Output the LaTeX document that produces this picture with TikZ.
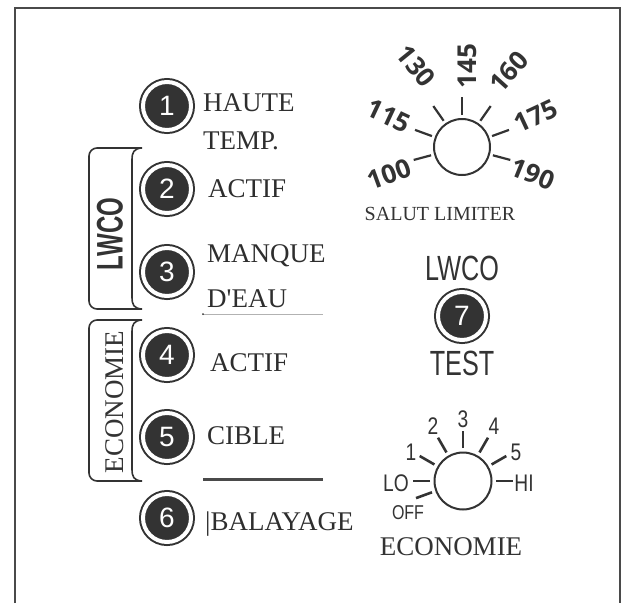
\documentclass[tikz,border=0pt]{standalone}
\usepackage{fontspec}
\setmainfont{Liberation Serif}
\newfontfamily\lsans{Liberation Sans}
\newfontfamily\osans{Open Sans}
\usetikzlibrary{calc}
\definecolor{dark}{HTML}{333333}
\definecolor{frame}{HTML}{4A4A4A}
\tikzset{
  numc/.style={circle, fill=dark, draw=dark, line width=2pt, double=white, double distance=4pt,
    minimum size=48pt, inner sep=0pt, text=white, font=\lsans\fontsize{28}{28}\selectfont},
  lbl/.style={anchor=base west, inner sep=0pt, font=\fontsize{27}{27}\selectfont, text=dark!90!black},
  brk/.style={draw=dark, line width=1.6pt},
  dialc/.style={circle, draw=dark, line width=2pt, minimum size=56pt, inner sep=0pt},
  tickA/.style={draw=dark, line width=2.2pt},
  dnum/.style={inner sep=0pt, font=\osans\bfseries\fontsize{26}{26}\selectfont, text=dark},
  enum/.style={inner sep=0pt, font=\lsans\fontsize{24}{24}\selectfont, text=dark},
  cond/.style={inner sep=0pt, font=\lsans\fontsize{35}{35}\selectfont, text=dark}
}
\begin{document}
\begin{tikzpicture}[x=1pt,y=1pt]
\useasboundingbox (0,0) rectangle (621,-603);
% frame
\draw[frame, line width=2.6pt] (15,-603) -- (15,-8) -- (620,-8) -- (620,-603);

% numbered circles
\node[numc] (n1) at (167,-106) {1};
\node[numc] (n2) at (167,-189) {2};
\node[numc] (n3) at (167,-272) {3};
\node[numc] (n4) at (167,-355) {4};
\node[numc] (n5) at (167,-437) {5};
\node[numc] (n6) at (167,-518) {6};
\node[numc] (n7) at (462,-316) {7};

% labels
\node[lbl] (t1a) at (203,-111) {HAUTE};
\node[lbl] (t1b) at (203,-149) {TEMP.};
\node[lbl] (t2) at (208,-197) {ACTIF};
\node[lbl] (t3a) at (207,-262) {MANQUE};
\node[lbl] (t3b) at (207,-307) {D\textquotesingle EAU};
\node[lbl] (t4) at (210,-371) {ACTIF};
\node[lbl] (t5) at (207,-444) {CIBLE};
\node[lbl] (t6) at (205,-530) {|BALAYAGE};

% separator lines
\coordinate (s1a) at (203,-314);
\coordinate (s1b) at (323,-314);
\draw[black!30, line width=0.7pt] (s1a) -- (s1b);
\fill[dark] (s1a) circle (1pt);
\coordinate (s2a) at (203,-479);
\coordinate (s2b) at (323,-479);
\draw[frame, line width=3pt] (s2a) -- (s2b);

% LWCO bracket
\draw[brk, rounded corners=8pt] (142,-148) -- (89,-148) -- (89,-309) -- (142,-309);
\draw[brk] (141,-148) .. controls (134,-149) and (132,-152) .. (132,-160) -- (132,-297) .. controls (132,-305) and (134,-308) .. (141,-309);
\node[inner sep=0pt, rotate=90, font=\lsans\bfseries\fontsize{37}{37}\selectfont, text=dark] (lw) at (110,-234) {\scalebox{0.65}[1]{LWCO}};

% ECONOMIE bracket
\draw[brk, rounded corners=8pt] (142,-320) -- (89,-320) -- (89,-481) -- (142,-481);
\draw[brk] (141,-320) .. controls (134,-321) and (132,-324) .. (132,-332) -- (132,-469) .. controls (132,-477) and (134,-480) .. (141,-481);
\node[inner sep=0pt, rotate=90, font=\fontsize{27}{27}\selectfont, text=dark] (ec) at (115,-402) {ECONOMIE};

% dial 1
\node[dialc] (d1) at (462,-147) {};
\foreach \a in {195,160,125,90,55,20,-15}
  \draw[tickA] ($(d1.center)+(\a:32)$) -- ($(d1.center)+(\a:50)$);
\node[dnum, rotate=20] (v100) at (389,-174) {100};
\node[dnum, rotate=-25] (v115) at (389,-116) {115};
\node[dnum, rotate=-51] (v130) at (416,-66) {130};
\node[dnum, rotate=90] (v145) at (467,-66) {145};
\node[dnum, rotate=48] (v160) at (509,-72) {160};
\node[dnum, rotate=25] (v175) at (536,-116) {175};
\node[dnum, rotate=-22] (v190) at (533,-174) {190};
\node[inner sep=0pt, anchor=base, font=\fontsize{20}{20}\selectfont, text=dark] (sl) at (440,-220) {SALUT LIMITER};

% LWCO TEST
\node[cond] (lwr) at (462,-268) {\scalebox{0.72}[1]{LWCO}};
\node[cond] (test) at (462,-363) {\scalebox{0.72}[1]{TEST}};

% dial 2
\node[dialc, minimum size=57pt] (d2) at (463,-481) {};
\foreach \a in {200,180,150,120,90,60,30,0}
  \draw[draw=dark, line width=2.6pt] ($(d2.center)+(\a:33)$) -- ($(d2.center)+(\a:50)$);
\node[enum] (e3) at (463,-419) {\scalebox{0.8}[1]{3}};
\node[enum] (e2) at (433,-426) {\scalebox{0.8}[1]{2}};
\node[enum] (e4) at (494,-426) {\scalebox{0.8}[1]{4}};
\node[enum] (e1) at (411,-452) {\scalebox{0.8}[1]{1}};
\node[enum] (e5) at (516,-452) {\scalebox{0.8}[1]{5}};
\node[enum] (elo) at (396,-483) {\scalebox{0.8}[1]{LO}};
\node[enum] (ehi) at (524,-483) {\scalebox{0.8}[1]{HI}};
\node[enum, font=\lsans\fontsize{20}{20}\selectfont] (eoff) at (408,-513) {\scalebox{0.8}[1]{OFF}};
\node[inner sep=0pt, anchor=base, font=\fontsize{27}{27}\selectfont, text=dark] (eco) at (451,-555) {ECONOMIE};
\end{tikzpicture}
\end{document}
